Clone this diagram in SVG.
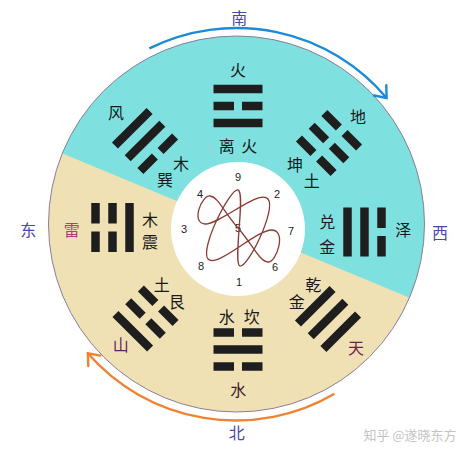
<svg xmlns="http://www.w3.org/2000/svg" width="474" height="455" viewBox="0 0 474 455">
<style>
.cjk{font-family:"Noto Sans CJK SC","Noto Sans",sans-serif;font-size:16px;text-anchor:middle;fill:#1a1a1a}
.dir{fill:#4a4aa6}
.num{font-family:"Liberation Sans","DejaVu Sans",sans-serif;font-size:11px;text-anchor:middle;fill:#222}
.bar{fill:#1e1e1e}
</style>
<defs>
<clipPath id="upper"><polygon points="0,0 474,0 474,324.6 0,127.4"/></clipPath>
<g id="yang"><rect class="bar" x="-24.5" y="-4.25" width="49" height="8.5"/></g>
<g id="yin"><rect class="bar" x="-24.5" y="-4.25" width="20.5" height="8.5"/><rect class="bar" x="4" y="-4.25" width="20.5" height="8.5"/></g>
<marker id="arrBlue" markerUnits="userSpaceOnUse" markerWidth="24" markerHeight="24" refX="12" refY="12" orient="auto" viewBox="0 0 24 24">
<path d="M2 4 L12 12 L2 20" fill="none" stroke="#1c8ad6" stroke-width="2.4" stroke-linecap="round"/>
</marker>
<marker id="arrOrange" markerUnits="userSpaceOnUse" markerWidth="24" markerHeight="24" refX="12" refY="12" orient="auto" viewBox="0 0 24 24">
<path d="M2 4 L12 12 L2 20" fill="none" stroke="#f08232" stroke-width="2.4" stroke-linecap="round"/>
</marker>
</defs>

<g id="disc">
<circle cx="236.5" cy="224" r="188" fill="#f0e1b5"/>
<circle cx="236.5" cy="224" r="188" fill="#7fe0e0" clip-path="url(#upper)"/>
<circle cx="236.5" cy="224" r="188" fill="none" stroke="#8a7f9a" stroke-width="1"/>
<circle cx="238" cy="229" r="67" fill="#ffffff"/>
</g>

<g id="center-numbers">
<text class="num" x="238" y="181">9</text>
<text class="num" x="200" y="198">4</text>
<text class="num" x="277" y="198">2</text>
<text class="num" x="184" y="233">3</text>
<text class="num" x="238" y="232">5</text>
<text class="num" x="291" y="235">7</text>
<text class="num" x="201" y="270">8</text>
<text class="num" x="275" y="271">6</text>
<text class="num" x="239" y="286">1</text>
</g>

<g id="li">
<g transform="translate(238,106)">
<use href="#yang" y="-17"/><use href="#yin"/><use href="#yang" y="17"/>
</g>
<text class="cjk" x="238" y="76">火</text>
<text class="cjk" x="226.7" y="152">离</text>
<text class="cjk" x="249.3" y="152">火</text>
</g>

<g id="kun">
<g transform="translate(329,143) rotate(45)">
<use href="#yin" y="-18"/><use href="#yin"/><use href="#yin" y="18"/>
</g>
<text class="cjk" x="358" y="123">地</text>
<text class="cjk" x="295" y="171">坤</text>
<text class="cjk" x="311.7" y="187">土</text>
</g>

<g id="dui">
<g transform="translate(364.5,232) rotate(90)">
<use href="#yin" y="-17"/><use href="#yang"/><use href="#yang" y="17"/>
</g>
<text class="cjk" x="403.3" y="236">泽</text>
<text class="cjk" x="327.3" y="228">兑</text>
<text class="cjk" x="327.3" y="253">金</text>
</g>

<g id="qian">
<g transform="translate(328,319) rotate(135)">
<use href="#yang" y="-18"/><use href="#yang"/><use href="#yang" y="18"/>
</g>
<text class="cjk" x="313.3" y="291">乾</text>
<text class="cjk" x="296.7" y="308">金</text>
<text class="cjk" x="356" y="354" style="fill:#6e2447">天</text>
</g>

<g id="kan">
<g transform="translate(238,349.5) rotate(180)">
<use href="#yin" y="-17"/><use href="#yang"/><use href="#yin" y="17"/>
</g>
<text class="cjk" x="226.7" y="323">水</text>
<text class="cjk" x="251.7" y="323">坎</text>
<text class="cjk" x="238.3" y="396" style="fill:#3a1f30">水</text>
</g>

<g id="gen">
<g transform="translate(145.5,318.5) rotate(225)">
<use href="#yang" y="-18"/><use href="#yin"/><use href="#yin" y="18"/>
</g>
<text class="cjk" x="161.7" y="291">土</text>
<text class="cjk" x="176.7" y="308">艮</text>
<text class="cjk" x="120.7" y="351" style="fill:#5e2466">山</text>
</g>

<g id="zhen">
<g transform="translate(112.5,227.5) rotate(270)">
<use href="#yin" y="-17"/><use href="#yin"/><use href="#yang" y="17"/>
</g>
<text class="cjk" x="71.7" y="236" style="fill:#b23a78">雷</text>
<text class="cjk" x="150" y="226">木</text>
<text class="cjk" x="150" y="248">震</text>
</g>

<g id="xun">
<g transform="translate(145,141) rotate(-45)">
<use href="#yang" y="-18"/><use href="#yang"/><use href="#yin" y="18"/>
</g>
<text class="cjk" x="116" y="119">风</text>
<text class="cjk" x="181" y="170">木</text>
<text class="cjk" x="165" y="186">巽</text>
</g>

<g id="directions">
<text class="cjk dir" x="239.3" y="24">南</text>
<text class="cjk dir" x="28.3" y="236">东</text>
<text class="cjk dir" x="440" y="239">西</text>
<text class="cjk dir" x="236.7" y="439">北</text>
</g>

<g id="connectors">
<path id="loshu" d="M240 266 C247.5 268.25 276.75 209.5 268 199 C259.25 188.5 219.5 224.75 205 224 C190.5 223.25 201.75 195 210 196 C218.25 197 223.5 211.5 238 228 C252.5 244.5 259.5 261.5 268 262 C276.5 262.5 287 230.75 272 230 C257 229.25 216.5 269 208 259 C199.5 249 230 188.25 238 190 C246 191.75 232.5 263.75 240 266 Z" fill="none" stroke="#8b3a32" stroke-width="1.3"/>
<path d="M149.4 48.4 A196 196 0 0 1 386.6 98" fill="none" stroke="#1c8ad6" stroke-width="2.4" marker-end="url(#arrBlue)"/>
<path d="M334.5 393.7 A196 196 0 0 1 87.8 353.3" fill="none" stroke="#f08232" stroke-width="2.4" marker-end="url(#arrOrange)"/>
</g>

<text x="410" y="440" style="font-family:'Noto Sans CJK SC',sans-serif;font-size:13px;fill:#c4c4c4;text-anchor:middle">知乎 @遂晓东方</text>
</svg>
